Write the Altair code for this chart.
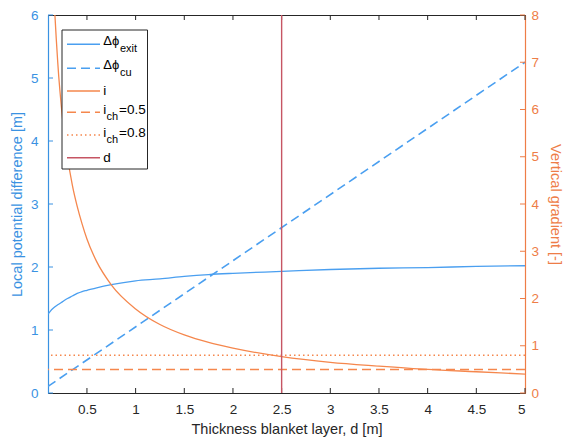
import altair as alt
import pandas as pd

# ---------------- data ----------------
d_vals = [0.1, 0.125, 0.15, 0.2, 0.25, 0.3, 0.35, 0.4, 0.45, 0.5, 0.6, 0.75,
          1.0, 1.25, 1.5, 1.75, 2.0, 2.5, 3.0, 3.5, 4.0, 4.5, 5.0]
dphi_exit = [1.25, 1.30, 1.34, 1.40, 1.45, 1.50, 1.54, 1.58, 1.61, 1.63, 1.67, 1.72,
             1.78, 1.81, 1.85, 1.88, 1.90, 1.93, 1.96, 1.98, 1.99, 2.01, 2.02]
i_vals = [12.5, 10.4, 8.93, 7.0, 5.8, 5.0, 4.4, 3.95, 3.58, 3.26, 2.78, 2.29,
          1.78, 1.45, 1.23, 1.07, 0.95, 0.77, 0.65, 0.57, 0.50, 0.45, 0.40]
d_cu = [0.1, 5.0]
dphi_cu = [0.105, 5.25]
i_ch_05 = [0.5]
i_ch_08 = [0.8]
d_marker = [2.5]
x_ticks = [0.5, 1, 1.5, 2, 2.5, 3, 3.5, 4, 4.5, 5]
left_ticks = [0, 1, 2, 3, 4, 5, 6]
right_ticks = [0, 1, 2, 3, 4, 5, 6, 7, 8]

legend_labels = ["Δϕ", "exit", "Δϕ", "cu", "i", "i", "ch", "=0.5", "i", "ch", "=0.8", "d"]

# ---------------- styles ----------------
W, H = 477, 378
FONT = "Liberation Sans"
BLUE = "#4A9FF0"
BLUE_AX = "#3A92E2"
ORANGE = "#F5874D"
ORANGE_AX = "#EE7D47"
RED = "#C65563"
DARK = "#262626"
LBL = 13.5
TTL = 14.5

curve_df = pd.DataFrame({"d": d_vals, "v": dphi_exit, "i": i_vals})
cu_df = pd.DataFrame({"d": d_cu, "v": dphi_cu})
xt_df = pd.DataFrame({"d": x_ticks})
lt_df = pd.DataFrame({"v": left_ticks})
rt_df = pd.DataFrame({"i": right_ticks})
one = pd.DataFrame({"k": [0]})

xscale = alt.Scale(domain=[0.1, 5], nice=False, zero=False)
lscale = alt.Scale(domain=[0, 6], nice=False)
rscale = alt.Scale(domain=[0, 8], nice=False)

common = dict(tickSize=0, grid=False, labelFont=FONT, titleFont=FONT,
              labelFontSize=LBL, titleFontSize=TTL, titleFontWeight="normal",
              domainWidth=1.2, format="~g")

xaxis = alt.Axis(values=x_ticks, labelPadding=9,
                 title="Thickness blanket layer, d [m]", titlePadding=7,
                 domainColor=DARK, labelColor=DARK, titleColor=DARK, **common)
laxis = alt.Axis(values=left_ticks, labelPadding=10,
                 title="Local potential difference [m]", titlePadding=6,
                 domainColor=BLUE_AX, labelColor=BLUE_AX, titleColor=BLUE_AX,
                 orient="left", **common)
raxis = alt.Axis(values=right_ticks, labelPadding=6,
                 title="Vertical gradient [-]", titlePadding=9,
                 domainColor=ORANGE_AX, labelColor=ORANGE_AX, titleColor=ORANGE_AX,
                 orient="right", **common)

X = lambda: alt.X("d:Q", scale=xscale, axis=xaxis)
YL = lambda: alt.Y("v:Q", scale=lscale, axis=laxis)
YR = lambda: alt.Y("i:Q", scale=rscale, axis=raxis)

# ---------------- left-axis group ----------------
exit_line = alt.Chart(curve_df).mark_line(color=BLUE, strokeWidth=1.3, interpolate="monotone", clip=True).encode(x=X(), y=YL())
cu_line = alt.Chart(cu_df).mark_line(color=BLUE, strokeWidth=1.6, strokeDash=[9, 5], clip=True).encode(x=X(), y=YL())
left_tick_marks = alt.Chart(lt_df).mark_rule(color=BLUE_AX, strokeWidth=1).encode(
    y=YL(), x=alt.value(0), x2=alt.value(5))
bot_ticks = alt.Chart(xt_df).mark_rule(color=DARK, strokeWidth=1).encode(
    x=X(), y=alt.value(H), y2=alt.value(H - 5))
top_ticks = alt.Chart(xt_df).mark_rule(color=DARK, strokeWidth=1).encode(
    x=X(), y=alt.value(0), y2=alt.value(5))
left_group = alt.layer(exit_line, cu_line, left_tick_marks, bot_ticks, top_ticks)

# ---------------- right-axis group ----------------
i_line = alt.Chart(curve_df).mark_line(color=ORANGE, strokeWidth=1.3, interpolate="monotone", clip=True).encode(x=X(), y=YR())
ich05 = alt.Chart(pd.DataFrame({"i": i_ch_05})).mark_rule(color=ORANGE, strokeWidth=1.5, strokeDash=[9, 5]).encode(y=YR())
ich08 = alt.Chart(pd.DataFrame({"i": i_ch_08})).mark_rule(color=ORANGE, strokeWidth=1.5, strokeDash=[1.5, 3]).encode(y=YR())
right_tick_marks = alt.Chart(rt_df).mark_rule(color=ORANGE_AX, strokeWidth=1).encode(
    y=YR(), x=alt.value(W), x2=alt.value(W - 5))
d_rule = alt.Chart(pd.DataFrame({"d": d_marker})).mark_rule(color=RED, strokeWidth=1.4).encode(x=X())
right_group = alt.layer(i_line, ich05, ich08, right_tick_marks, d_rule)

# ---------------- legend ----------------
def sample(color, dash, y):
    kw = {"color": color, "strokeWidth": 1.4}
    if dash:
        kw["strokeDash"] = dash
    return alt.Chart(one).mark_rule(**kw).encode(x=alt.value(19), x2=alt.value(52), y=alt.value(y))

def txt(s, x, y, size=13.5, style="normal"):
    return alt.Chart(one).mark_text(text=s, align="left", baseline="middle", fontSize=size,
                                    font=FONT, fontStyle=style, color="black").encode(
        x=alt.value(x), y=alt.value(y))

box = alt.Chart(one).mark_rect(fill="white", stroke=DARK, strokeWidth=1).encode(
    x=alt.value(14), x2=alt.value(99.5), y=alt.value(15), y2=alt.value(154))

rows = [29.3, 53.3, 76, 97.3, 120, 142.7]
L = legend_labels
legend = alt.layer(
    box,
    sample(BLUE, None, rows[0]),
    sample(BLUE, [9, 5], rows[1]),
    sample(ORANGE, None, rows[2]),
    sample(ORANGE, [9, 5], rows[3]),
    sample(ORANGE, [1.5, 3], rows[4]),
    sample(RED, None, rows[5]),
    txt(L[0], 55.3, rows[0] - 3, size=13), txt(L[1], 72, rows[0] + 5, size=11),
    txt(L[2], 55.3, rows[1] - 3, size=13), txt(L[3], 72, rows[1] + 5, size=11),
    txt(L[4], 55.3, rows[2]),
    txt(L[5], 55.3, rows[3] - 2), txt(L[6], 58.5, rows[3] + 5, size=11), txt(L[7], 71, rows[3] - 2),
    txt(L[8], 55.3, rows[4] - 2), txt(L[9], 58.5, rows[4] + 5, size=11), txt(L[10], 71, rows[4] - 2),
    txt(L[11], 55.3, rows[5]),
)

chart = alt.layer(left_group, right_group, legend).resolve_scale(y="independent").properties(
    width=W, height=H,
    autosize=alt.AutoSizeParams(type="none"),
    padding={"left": 48, "top": 15, "right": 40, "bottom": 52},
    background="white",
).configure_view(stroke=DARK, strokeWidth=1)

chart.save("out.html", embed_options={"renderer": "svg", "actions": False})
